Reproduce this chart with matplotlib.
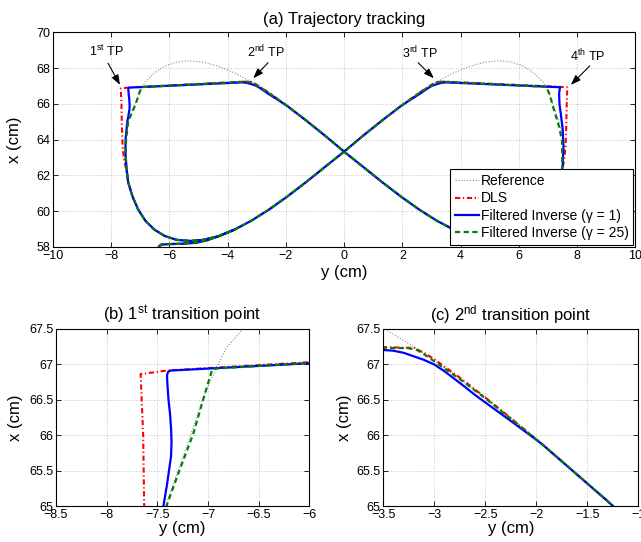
import numpy as np
import matplotlib
matplotlib.use('Agg')
import matplotlib.pyplot as plt
from matplotlib.ticker import MultipleLocator, FuncFormatter

plt.rcParams['font.family'] = ['Liberation Sans', 'DejaVu Sans']
plt.rcParams['mathtext.fontset'] = 'custom'
plt.rcParams['mathtext.rm'] = 'Liberation Sans'

# reference figure-eight, lateral y (cm) vs forward x (cm)
ref_y = [7.52, 7.49, 7.36, 7.18, 7.04, 6.82, 6.51, 6.16, 5.76, 5.32, 4.83, 4.31, 3.76, 3.18, 2.57, 1.95, 1.31, 0.66, 0.00,
         -0.66, -1.31, -1.95, -2.57, -3.18, -3.76, -4.31, -4.83, -5.32, -5.76, -6.16, -6.51, -6.82, -7.07, -7.26, -7.41, -7.49, -7.52,
         -7.49, -7.40, -7.20, -7.03, -6.82, -6.51, -6.16, -5.76, -5.32, -4.83, -4.31, -3.76, -3.18, -2.57, -1.95, -1.31, -0.66, 0.00,
         0.66, 1.31, 1.95, 2.57, 3.18, 3.76, 4.31, 4.83, 5.32, 5.76, 6.16, 6.51, 6.82, 7.07, 7.26, 7.41, 7.49, 7.52]
ref_x = [63.35, 64.23, 65.08, 65.88, 66.60, 67.23, 67.73, 68.10, 68.33, 68.41, 68.33, 68.10, 67.73, 67.23, 66.60, 65.88, 65.08, 64.23, 63.35,
         62.47, 61.62, 60.82, 60.10, 59.47, 58.97, 58.60, 58.37, 58.29, 58.37, 58.60, 58.97, 59.47, 60.10, 60.82, 61.62, 62.47, 63.35,
         64.23, 65.08, 65.88, 66.60, 67.23, 67.73, 68.10, 68.33, 68.41, 68.33, 68.10, 67.73, 67.23, 66.60, 65.88, 65.08, 64.23, 63.35,
         62.47, 61.62, 60.82, 60.10, 59.47, 58.97, 58.60, 58.37, 58.29, 58.37, 58.60, 58.97, 59.47, 60.10, 60.82, 61.62, 62.47, 63.35]

# segments shared by all three controllers
start_y = [-6.35, -6.28, -6.05, -5.60, -5.10, -4.70, -4.31, -3.76, -3.18, -2.57, -1.95, -1.31, -0.66, 0.00, 0.66, 1.31, 1.95]
start_x = [58.03, 58.13, 58.16, 58.18, 58.23, 58.38, 58.60, 58.97, 59.47, 60.10, 60.82, 61.62, 62.47, 63.33, 64.23, 65.08, 65.88]
right_y = [7.41, 7.26, 7.07, 6.82, 6.51, 6.16, 5.76, 5.32, 4.83, 4.31, 3.76, 3.18, 2.57, 1.95, 1.31, 0.66, 0.00, -0.66, -1.31, -1.95]
right_x = [61.62, 60.82, 60.10, 59.47, 58.97, 58.60, 58.37, 58.29, 58.37, 58.60, 58.97, 59.47, 60.10, 60.82, 61.62, 62.47, 63.33, 64.23, 65.08, 65.88]
left_y = [-7.41, -7.26, -7.07, -6.82, -6.51, -6.16, -5.75, -5.29, -4.84, -4.31, -3.76]
left_x = [61.62, 60.82, 60.10, 59.47, 58.97, 58.62, 58.40, 58.34, 58.40, 58.60, 58.97]

# DLS around the transition points
dls_tr_y = [2.25, 2.50, 2.75, 3.00, 3.10, 3.20, 3.50, 7.66, 7.64, 7.62, 7.60, 7.55, 7.49]
dls_tr_x = [66.24, 66.53, 66.81, 67.07, 67.16, 67.23, 67.24, 66.93, 66.00, 64.50, 63.60, 62.90, 62.30]
dls_tl_y = [-2.25, -2.50, -2.75, -3.00, -3.10, -3.20, -3.50, -7.41, -7.665, -7.64, -7.63, -7.60, -7.56, -7.49]
dls_tl_x = [66.24, 66.53, 66.81, 67.07, 67.16, 67.23, 67.24, 66.91, 66.86, 66.00, 65.00, 63.60, 63.00, 62.40]

# filtered inverse, gamma = 1
fi1_tr_y = [2.25, 2.50, 2.60, 2.70, 2.80, 2.90, 3.00, 3.10, 3.20, 3.30, 3.40, 3.50,
            7.41, 7.38, 7.39, 7.44, 7.50, 7.53, 7.50]
fi1_tr_x = [66.20, 66.46, 66.565, 66.68, 66.79, 66.90, 66.995, 67.06, 67.11, 67.16, 67.19, 67.20,
            66.93, 66.60, 66.00, 65.40, 64.60, 63.60, 62.50]
fi1_tl_y = [-2.25, -2.50, -2.60, -2.70, -2.80, -2.90, -3.00, -3.10, -3.20, -3.30, -3.40, -3.50,
            -7.37, -7.395, -7.405, -7.40, -7.39, -7.375, -7.365, -7.36, -7.365, -7.385, -7.405, -7.44,
            -7.50, -7.50, -7.47]
fi1_tl_x = [66.20, 66.46, 66.565, 66.68, 66.79, 66.90, 66.995, 67.06, 67.11, 67.16, 67.19, 67.20,
            66.91, 66.89, 66.84, 66.70, 66.50, 66.30, 66.10, 65.90, 65.70, 65.50, 65.30, 65.00,
            64.00, 63.20, 62.47]

# filtered inverse, gamma = 25
fi25_tr_y = [2.25, 2.50, 2.75, 3.00, 3.10, 3.17, 3.25, 3.50, 6.94, 7.06, 7.17, 7.28, 7.38, 7.48, 7.49]
fi25_tr_x = [66.23, 66.52, 66.79, 67.04, 67.14, 67.20, 67.225, 67.23, 66.95, 66.50, 65.84, 65.25, 64.72, 63.90, 62.50]
fi25_tl_y = [-2.25, -2.50, -2.75, -3.00, -3.10, -3.17, -3.25, -3.50, -6.91, -6.96, -7.05, -7.145, -7.28, -7.41,
             -7.48, -7.50, -7.47]
fi25_tl_x = [66.23, 66.52, 66.79, 67.04, 67.14, 67.20, 67.225, 67.23, 66.94, 66.92, 66.49, 66.02, 65.51, 65.00,
             64.00, 63.20, 62.47]

dls_y = start_y + dls_tr_y + right_y + dls_tl_y + left_y
dls_x = start_x + dls_tr_x + right_x + dls_tl_x + left_x
fi1_y = start_y + fi1_tr_y + right_y + fi1_tl_y + left_y
fi1_x = start_x + fi1_tr_x + right_x + fi1_tl_x + left_x
fi25_y = start_y + fi25_tr_y + right_y + fi25_tl_y + left_y
fi25_x = start_x + fi25_tr_x + right_x + fi25_tl_x + left_x

# transition point labels: text position, arrow tail, arrow head
tp_labels = [r'$\mathregular{1^{st}}$ TP', r'$\mathregular{2^{nd}}$ TP',
             r'$\mathregular{3^{rd}}$ TP', r'$\mathregular{4^{th}}$ TP']
tp_text = [(-8.17, 68.68), (-2.69, 68.60), (2.60, 68.55), (8.37, 68.40)]
tp_tail = [(-8.10, 68.27), (-2.61, 68.30), (2.54, 68.30), (8.43, 68.12)]
tp_head = [(-7.69, 67.06), (-3.12, 67.43), (3.08, 67.43), (7.78, 67.06)]


def fmt(v, pos):
    return ('%g' % round(v, 3)).replace('-', '\u2212')


def draw(ax):
    ax.plot(ref_y, ref_x, color='#8c8c8c', lw=0.8, ls=(0, (1, 1.6)), label='Reference')
    ax.plot(dls_y, dls_x, color='#ff0000', lw=1.5, dashes=(2.5, 1.3, 0.6, 1.3), label='DLS')
    ax.plot(fi1_y, fi1_x, color='#0000ff', lw=1.6, label='Filtered Inverse (γ = 1)')
    ax.plot(fi25_y, fi25_x, color='#007f00', lw=1.6, dashes=(2.3, 1.6), label='Filtered Inverse (γ = 25)')


def style(ax, xlim, ylim, dx, dy):
    ax.set_xlim(xlim)
    ax.set_ylim(ylim)
    ax.xaxis.set_major_locator(MultipleLocator(dx))
    ax.yaxis.set_major_locator(MultipleLocator(dy))
    ax.xaxis.set_major_formatter(FuncFormatter(fmt))
    ax.yaxis.set_major_formatter(FuncFormatter(fmt))
    ax.tick_params(direction='in', top=True, right=True, length=3.5, width=0.6, pad=2, labelsize=9)
    ax.grid(True, color='#b3b3b3', ls=(0, (1, 2)), lw=0.6)
    ax.set_axisbelow(True)
    for s in ax.spines.values():
        s.set_linewidth(0.8)
    ax.set_xlabel('y (cm)', fontsize=12)
    ax.set_ylabel('x (cm)', fontsize=12)


fig = plt.figure(figsize=(6.41, 5.42), dpi=100)

ax1 = fig.add_axes([0.0822, 0.5443, 0.9092, 0.3961])
draw(ax1)
style(ax1, (-10, 10), (58, 70), 2, 2)
ax1.set_title('(a) Trajectory tracking', fontsize=12, pad=6)
ax1.xaxis.set_label_coords(0.5, -0.084)
ax1.yaxis.set_label_coords(-0.052, 0.5)
for lab, t, a, h in zip(tp_labels, tp_text, tp_tail, tp_head):
    ax1.text(t[0], t[1], lab, fontsize=9, ha='center', va='baseline')
    ax1.annotate('', xy=h, xytext=a,
                 arrowprops=dict(arrowstyle='-|>,head_length=0.5,head_width=0.18',
                                 color='k', lw=0.8, mutation_scale=12,
                                 shrinkA=0, shrinkB=0))
leg = ax1.legend(loc='lower right', fontsize=10, frameon=True, fancybox=False,
                 edgecolor='k', framealpha=1, borderpad=0.35, borderaxespad=0.15,
                 handlelength=1.75, handletextpad=0.1, labelspacing=0.24)
leg.get_frame().set_linewidth(0.8)

ax2 = fig.add_axes([0.0874, 0.0664, 0.3952, 0.3271])
draw(ax2)
style(ax2, (-8.5, -6), (65, 67.5), 0.5, 0.5)
ax2.set_title(r'(b) $\mathregular{1^{st}}$ transition point', fontsize=12, pad=6)
ax2.xaxis.set_label_coords(0.5, -0.085)
ax2.yaxis.set_label_coords(-0.132, 0.5)

ax3 = fig.add_axes([0.598, 0.0664, 0.3978, 0.3271])
draw(ax3)
style(ax3, (-3.5, -1), (65, 67.5), 0.5, 0.5)
ax3.set_title(r'(c) $\mathregular{2^{nd}}$ transition point', fontsize=12, pad=6)
ax3.xaxis.set_label_coords(0.5, -0.085)
ax3.yaxis.set_label_coords(-0.123, 0.5)

fig.savefig('out.png', dpi=100)
